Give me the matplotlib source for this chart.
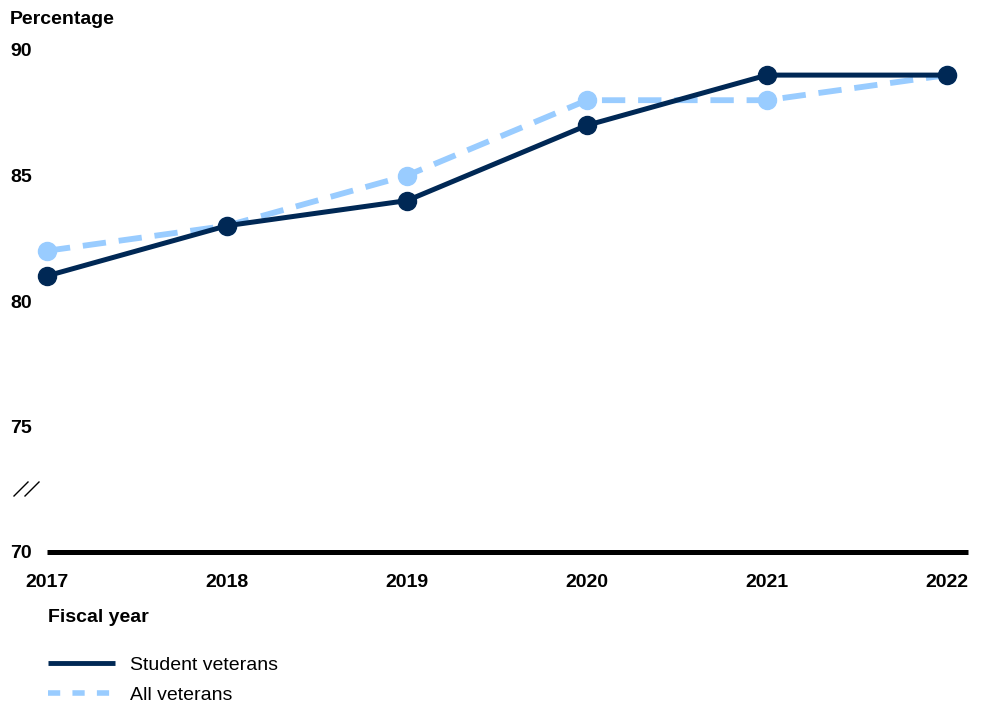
import matplotlib
matplotlib.use("Agg")
from matplotlib import pyplot as plt
from matplotlib.lines import Line2D

years = [2017, 2018, 2019, 2020, 2021, 2022]
student_veterans = [81, 83, 84, 87, 89, 89]
all_veterans = [82, 83, 85, 88, 88, 89]
y_ticks = [70, 75, 80, 85, 90]

DARK = "#002855"
LIGHT = "#99CCFF"

plt.rcParams['font.family'] = ['Liberation Sans', 'DejaVu Sans']

fig = plt.figure(figsize=(9.87, 7.06), dpi=100)
ax = fig.add_axes([47 / 987, 1 - 552 / 706, (968 - 47) / 987, (552 - 50) / 706])

ax.plot(years, all_veterans, color=LIGHT, linewidth=4.2, dashes=(4, 2.2),
        marker='o', markersize=13, clip_on=False, zorder=3)
ax.plot(years, student_veterans, color=DARK, linewidth=3.6,
        marker='o', markersize=13, clip_on=False, zorder=4)

ax.set_xlim(2017, 2022 + 21 / 180)
ax.set_ylim(70, 90)
ax.set_xticks(years)
ax.set_yticks(y_ticks)
ax.tick_params(axis='both', length=0, labelsize=14)
ax.tick_params(axis='y', pad=11)
ax.tick_params(axis='x', pad=16)
for lab in ax.get_xticklabels() + ax.get_yticklabels():
    lab.set_fontweight('bold')

for side in ['top', 'right', 'left']:
    ax.spines[side].set_visible(False)
ax.spines['bottom'].set_linewidth(3.6)
ax.spines['bottom'].set_color('black')
ax.spines['bottom'].set_capstyle('butt')

fig.text(10 / 987, 1 - 19 / 706, "Percentage", fontsize=14, fontweight='bold',
         va='center', ha='left')
fig.text(48 / 987, 1 - 618 / 706, "Fiscal year", fontsize=14, fontweight='bold',
         va='center', ha='left')

# axis break mark
for x0 in [14, 25]:
    fig.add_artist(Line2D([x0 / 987, (x0 + 14) / 987], [1 - 496 / 706, 1 - 482 / 706],
                          color='black', linewidth=1))

# legend
fig.add_artist(Line2D([48 / 987, 115 / 987], [1 - 663 / 706, 1 - 663 / 706],
                      color=DARK, linewidth=3.5, solid_capstyle='butt'))
fig.add_artist(Line2D([48 / 987, 115 / 987], [1 - 693 / 706, 1 - 693 / 706],
                      color=LIGHT, linewidth=4, dashes=(2.2, 2.2), dash_capstyle='butt'))
fig.text(130 / 987, 1 - 665 / 706, "Student veterans", fontsize=14, va='center', ha='left')
fig.text(130 / 987, 1 - 695 / 706, "All veterans", fontsize=14, va='center', ha='left')

fig.savefig("out.png", dpi=100)
